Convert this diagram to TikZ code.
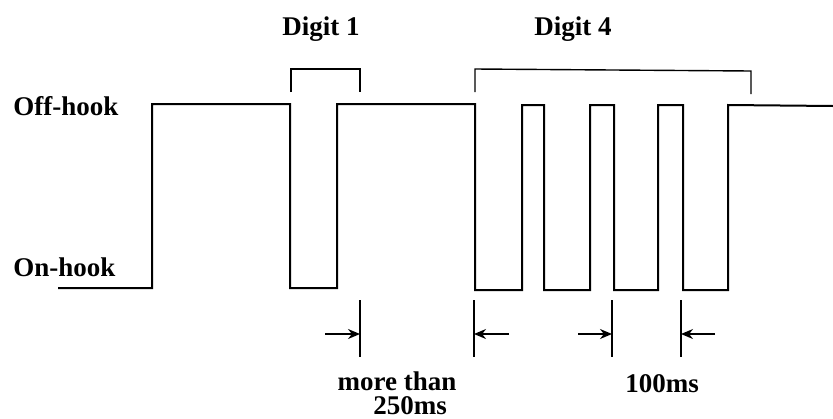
\documentclass[tikz,border=0pt]{standalone}
\usepackage{fontspec}
\setmainfont{Liberation Serif}
\usetikzlibrary{arrows.meta, positioning}

\begin{document}
\begin{tikzpicture}[x=0.5pt, y=-0.5pt, >={Stealth[length=6pt, width=5pt]},
    font=\fontsize{13.5}{15}\selectfont\bfseries]
  \tikzstyle{signal}=[line width=1pt, line join=miter]
  \tikzstyle{bracket}=[line width=0.7pt]
  \tikzstyle{tick}=[line width=0.7pt]
  \tikzstyle{lbl}=[inner sep=0pt, anchor=base]

  \useasboundingbox (0,0) rectangle (833,418);

  % Level labels
  \node[lbl, anchor=base west] (off) at (13,115) {Off-hook};
  \node[lbl, anchor=base west] (on) at (13,276) {On-hook};

  % Dial pulse waveform
  \draw[signal] (58,288) -- (152,288) -- (152,104) -- (290,104) -- (290,288)
    -- (337,288) -- (337,104) -- (475,104) -- (475,290)
    -- (522,290) -- (522,105) -- (544,105) -- (544,290)
    -- (590,290) -- (590,105) -- (614,105) -- (614,290)
    -- (658,290) -- (658,105) -- (683,105) -- (683,290)
    -- (728,290) -- (728,105) -- (833,106);

  % Digit brackets
  \draw[bracket] (291,92) -- (291,69) -- (360,69) -- (360,92);
  \draw[bracket] (475,92) -- (475,69) -- (751,71) -- (751,94);
  \node[lbl] (d1) at (321,35) {Digit 1};
  \node[lbl] (d4) at (573,35) {Digit 4};

  % Timing marks
  \foreach \x/\n in {360/a, 474/b, 612/c, 681/d} {
    \draw[tick] (\x,300) -- (\x,357);
    \coordinate (t\n) at (\x,334);
  }
  \coordinate (sa) at (325,334);
  \coordinate (sb) at (509,334);
  \coordinate (sc) at (578,334);
  \coordinate (sd) at (715,334);
  \draw[->, tick] (sa) -- (ta);
  \draw[->, tick] (sb) -- (tb);
  \draw[->, tick] (sc) -- (tc);
  \draw[->, tick] (sd) -- (td);

  \node[lbl] (more) at (397,390) {more than};
  \node[lbl] (t250) at (410,414) {250ms};
  \node[lbl] (t100) at (662,392) {100ms};
\end{tikzpicture}
\end{document}
